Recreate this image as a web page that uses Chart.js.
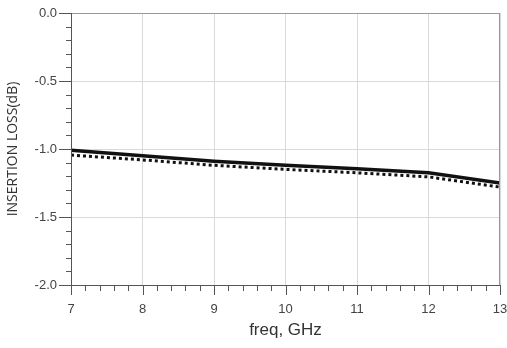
<!DOCTYPE html>
<html>
<head>
<meta charset="utf-8">
<script src="https://cdn.jsdelivr.net/npm/chart.js@4/dist/chart.umd.min.js"></script>
<style>
html,body{margin:0;padding:0;background:#fff;}
#wrap{width:507px;height:348px;position:relative;}
</style>
</head>
<body>
<div id="wrap"><canvas id="c" width="507" height="348"></canvas></div>
<script>
const freqs = [7, 8, 9, 10, 11, 12, 13];
const lossSolid = [-1.01, -1.05, -1.09, -1.12, -1.145, -1.175, -1.25];
const lossDotted = [-1.045, -1.08, -1.12, -1.15, -1.175, -1.205, -1.28];
const xTicks = [7, 8, 9, 10, 11, 12, 13];
const yTicks = [0.0, -0.5, -1.0, -1.5, -2.0];

const toPts = (ys) => freqs.map((f, i) => ({x: f, y: ys[i]}));

const tickPlugin = {
  id: 'minorTicks',
  afterDraw(chart) {
    const ctx = chart.ctx;
    const xs = chart.scales.x, ys = chart.scales.y;
    const area = chart.chartArea;
    ctx.save();
    ctx.strokeStyle = '#555';
    ctx.lineWidth = 1;
    for (let k = 0; k <= 30; k++) {
      const v = 7 + k * 0.2;
      const px = Math.round(xs.getPixelForValue(v)) + 0.5;
      const major = k % 5 === 0;
      ctx.beginPath();
      ctx.moveTo(px, area.bottom);
      ctx.lineTo(px, area.bottom + (major ? 10 : 6));
      ctx.stroke();
    }
    for (let k = 0; k <= 20; k++) {
      const v = -k * 0.1;
      const py = Math.round(ys.getPixelForValue(v)) + 0.5;
      const major = k % 5 === 0;
      ctx.beginPath();
      ctx.moveTo(area.left, py);
      ctx.lineTo(area.left - (major ? 12 : 5), py);
      ctx.stroke();
    }
    ctx.strokeStyle = '#999';
    ctx.beginPath();
    ctx.moveTo(area.left, area.top + 0.5);
    ctx.lineTo(area.right, area.top + 0.5);
    ctx.moveTo(area.right - 0.5, area.top);
    ctx.lineTo(area.right - 0.5, area.bottom);
    ctx.stroke();
    ctx.strokeStyle = '#555';
    ctx.beginPath();
    ctx.moveTo(area.left + 0.5, area.top);
    ctx.lineTo(area.left + 0.5, area.bottom);
    ctx.moveTo(area.left, area.bottom + 0.5);
    ctx.lineTo(area.right, area.bottom + 0.5);
    ctx.stroke();
    ctx.restore();
  }
};

new Chart(document.getElementById('c'), {
  type: 'line',
  data: {
    datasets: [
      {
        data: toPts(lossSolid),
        borderColor: '#111',
        borderWidth: 3.5,
        pointRadius: 0,
        tension: 0,
        fill: false
      },
      {
        data: toPts(lossDotted),
        borderColor: '#111',
        borderWidth: 3,
        borderDash: [3, 3],
        pointRadius: 0,
        tension: 0,
        fill: false
      }
    ]
  },
  options: {
    responsive: false,
    animation: false,
    devicePixelRatio: 1,
    layout: {padding: {top: 13, right: 7, left: 0, bottom: 0}},
    plugins: {legend: {display: false}, tooltip: {enabled: false}},
    scales: {
      x: {
        type: 'linear',
        min: 7, max: 13,
        afterBuildTicks: (s) => { s.ticks = xTicks.map(v => ({value: v})); },
        afterFit: (s) => { s.height = 63; s.paddingLeft = 0; s.paddingRight = 0; },
        grid: {color: '#d9d9d9', drawTicks: false, lineWidth: 1},
        border: {display: false},
        ticks: {
          padding: 17,
          color: '#444',
          font: {family: 'Liberation Sans, Arial', size: 13},
          callback: (v) => String(v)
        },
        title: {
          display: true,
          text: 'freq, GHz',
          color: '#333',
          font: {family: 'Liberation Sans, Arial', size: 17},
          padding: {top: 0, bottom: 7}
        }
      },
      y: {
        type: 'linear',
        min: -2, max: 0,
        afterBuildTicks: (s) => { s.ticks = yTicks.map(v => ({value: v})); },
        afterFit: (s) => { s.width = 71; s.paddingTop = 0; s.paddingBottom = 0; },
        grid: {color: '#d9d9d9', drawTicks: false, lineWidth: 1},
        border: {display: false},
        ticks: {
          padding: 14,
          color: '#444',
          font: {family: 'Liberation Sans, Arial', size: 13},
          callback: (v) => Number(v).toFixed(1)
        },
        title: {
          display: true,
          text: 'INSERTION LOSS(dB)',
          color: '#333',
          font: {family: 'Open Sans', size: 14},
          padding: {top: 5, bottom: 0}
        }
      }
    }
  },
  plugins: [tickPlugin]
});
</script>
</body>
</html>
